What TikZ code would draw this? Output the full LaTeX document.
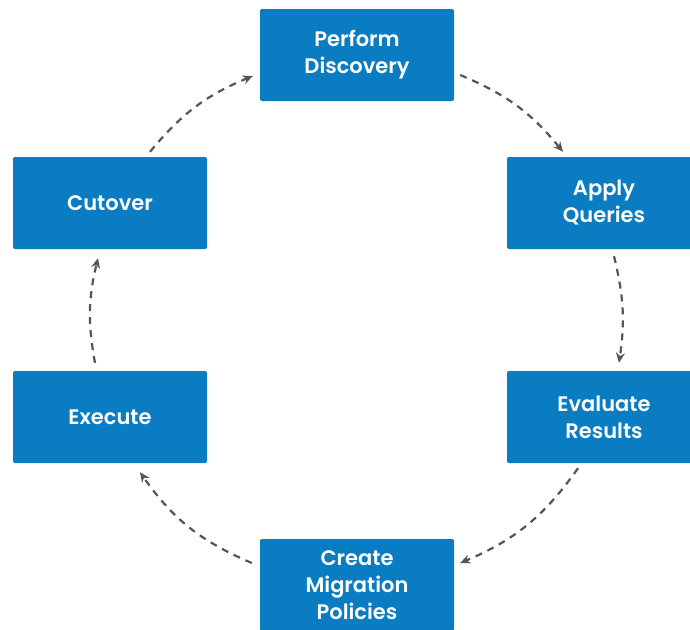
\documentclass[tikz,border=0pt]{standalone}
\usepackage{fontspec}
\setmainfont{Poppins}[UprightFont=* SemiBold]
\usetikzlibrary{arrows.meta}
\definecolor{boxblue}{HTML}{0A7CC2}
\definecolor{arrgray}{HTML}{555555}
\begin{document}
\begin{tikzpicture}[x=1pt,y=-1pt]
			\useasboundingbox (0,0) rectangle (690,629);
			\tikzstyle{b} = [fill=boxblue, text=white, rounded corners=2pt, minimum width=194pt, minimum height=92pt, align=center, font=\fontsize{21}{27}\selectfont]
			\tikzstyle{a} = [arrgray, line width=2.2pt, dash pattern=on 7pt off 6pt, -{Stealth[length=10pt,width=9pt]}]
			\node [b] (s1) at (357,55) {Perform\\Discovery};
			\node [b] (s2) at (604,203) {Apply\\Queries};
			\node [b] (s3) at (604,417) {Evaluate\\Results};
			\node [b] (s4) at (357,585) {Create\\Migration\\Policies};
			\node [b] (s5) at (110,417) {Execute};
			\node [b] (s6) at (110,203) {Cutover};
			
			\draw [a] ([xshift=40pt,yshift=5pt]s6.north) to[bend left=14] ([xshift=-7pt,yshift=-21pt]s1.west);
			\draw [a] ([xshift=6pt,yshift=-20pt]s1.east) to[bend left=14] ([xshift=-41pt,yshift=5pt]s2.north);
			\draw [a] ([xshift=10pt,yshift=-7pt]s2.south) to[bend left=11] ([xshift=15pt,yshift=8pt]s3.north);
			\draw [a] ([xshift=-26pt,yshift=-5pt]s3.south) to[bend left=16] ([xshift=6pt,yshift=22pt]s4.east);
			\draw [a] ([xshift=-8pt,yshift=22pt]s4.west) to[bend left=16] ([xshift=30pt,yshift=-9pt]s5.south);
			\draw [a] ([xshift=-15pt,yshift=8pt]s5.north) to[bend left=12] ([xshift=-12pt,yshift=-9pt]s6.south);
			
		\end{tikzpicture}
\end{document}
